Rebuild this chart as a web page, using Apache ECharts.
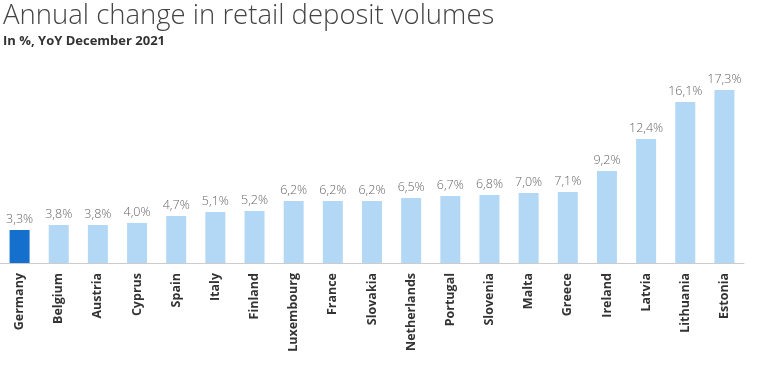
<!DOCTYPE html>
<html><head><meta charset="utf-8">
<script src="https://cdn.jsdelivr.net/npm/echarts@6/dist/echarts.min.js"></script>
<style>html,body{margin:0;padding:0;background:#fff}#c{width:771px;height:390px}</style>
</head><body><div id="c"></div>
<script>
const categories = ["Germany","Belgium","Austria","Cyprus","Spain","Italy","Finland","Luxembourg","France","Slovakia","Netherlands","Portugal","Slovenia","Malta","Greece","Ireland","Latvia","Lithuania","Estonia"];
const values = [3.3,3.8,3.8,4.0,4.7,5.1,5.2,6.2,6.2,6.2,6.5,6.7,6.8,7.0,7.1,9.2,12.4,16.1,17.3];
const highlight = "Germany";
const chart = echarts.init(document.getElementById('c'));
chart.setOption({
  animation:false,
  title:{text:"Annual change in retail deposit volumes",subtext:"In %, YoY December 2021",left:-2,top:-3,itemGap:5,
    textStyle:{fontFamily:"Open Sans",fontWeight:300,fontSize:27.5,color:"#444"},
    subtextStyle:{fontFamily:"Open Sans",fontWeight:"bold",fontSize:13,color:"#333"}},
  grid:{left:-3,width:747,top:63,height:200},
  xAxis:{type:"category",data:categories,axisTick:{show:false},
    axisLine:{lineStyle:{color:"#ccc",width:1}},
    axisLabel:{rotate:90,interval:0,margin:10,fontFamily:"Open Sans",fontWeight:"bold",fontSize:12.5,color:"#333"}},
  yAxis:{type:"value",min:0,max:20,show:false,splitLine:{show:false}},
  series:[{type:"bar",barWidth:20,
    data:values.map((v,i)=>({value:v,itemStyle:{color:categories[i]===highlight?"#1470cc":"#b3d8f6"}})),
    label:{show:true,position:"top",distance:4,fontFamily:"Open Sans",fontWeight:300,fontSize:12.5,color:"#666",
      formatter:p=>p.value.toFixed(1).replace('.',',')+'%'}}]
});
</script></body></html>
